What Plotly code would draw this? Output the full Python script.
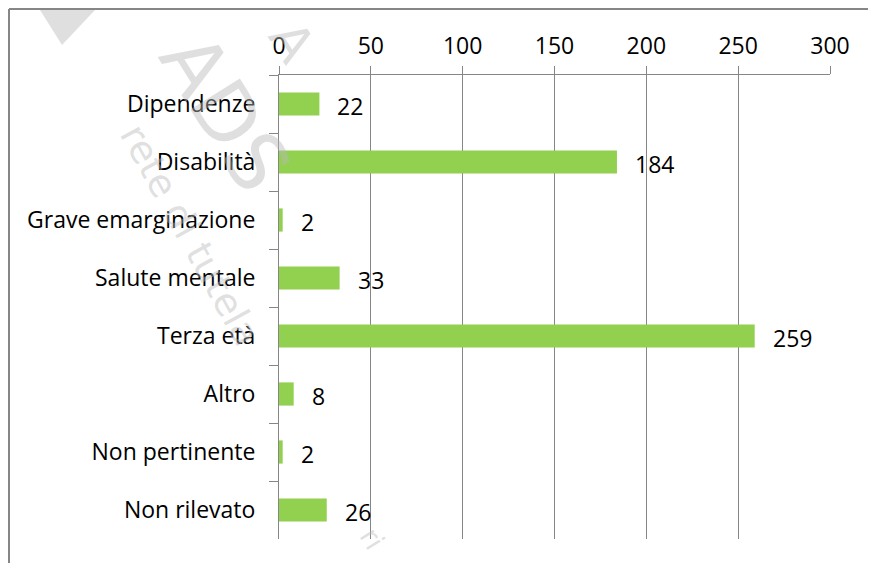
import plotly.graph_objects as go

categories = ["Dipendenze", "Disabilità", "Grave emarginazione", "Salute mentale",
              "Terza età", "Altro", "Non pertinente", "Non rilevato"]
values = [22, 184, 2, 33, 259, 8, 2, 26]
tick_vals = [0, 50, 100, 150, 200, 250, 300]

OFF = 8  # default page body margin
W, H = 876 - OFF, 563 - OFF
L, R, T, B = 279, 830, 75, 539  # plot area in page pixels
FONT = "Open Sans"
FS = 23
GRID = "#868686"
WM = "rgba(185,185,185,0.45)"


def px(x):
    return (x - L) / (R - L)


def py(y):
    return (B - y) / (B - T)


fig = go.Figure()
fig.add_trace(go.Bar(
    x=values, y=categories, orientation="h",
    marker=dict(color="#92D050", line=dict(width=0)),
    hoverinfo="x+y",
))

for c, v in zip(categories, values):
    fig.add_annotation(x=v, y=c, xref="x", yref="y", text=str(v),
                       showarrow=False, xanchor="left", yanchor="middle",
                       xshift=16, yshift=-2,
                       font=dict(family=FONT, size=FS, color="#000000"))

# watermark (faint, background)
wm = [
    ("rete di tutela", 190, 235, 61, 38),
    ("ADS", 225, 112, 58, 80),
    ("A", 292, 42, 58, 52),
    ("ri", 372, 538, 58, 28),
]
for txt, xx, yy, ang, size in wm:
    fig.add_annotation(x=px(xx), y=py(yy), xref="paper", yref="paper", text=txt,
                       showarrow=False, textangle=ang, xanchor="center", yanchor="middle",
                       font=dict(family="DejaVu Sans", size=size, color=WM))

shapes = [
    # chart area border (top and left)
    dict(type="line", xref="paper", yref="paper", x0=px(9), x1=px(880), y0=py(9), y1=py(9),
         line=dict(color="#868686", width=2)),
    dict(type="line", xref="paper", yref="paper", x0=px(9), x1=px(9), y0=py(9), y1=py(570),
         line=dict(color="#868686", width=2)),
    # watermark triangle
    dict(type="path", xref="paper", yref="paper",
         path=f"M {px(40)} {py(10)} L {px(95)} {py(10)} L {px(62)} {py(45)} Z",
         fillcolor=WM, line=dict(width=0), layer="below"),
]
fig.update_layout(shapes=shapes)

fig.update_layout(
    width=W, height=H,
    margin=dict(l=L - OFF, r=876 - R, t=T - OFF, b=563 - B, autoexpand=False),
    paper_bgcolor="white", plot_bgcolor="white",
    bargap=0.6,
    showlegend=False,
    font=dict(family=FONT, size=FS, color="#000000"),
    xaxis=dict(
        side="top", range=[0, 300], tickvals=tick_vals,
        ticktext=[str(t) for t in tick_vals],
        showgrid=True, gridcolor=GRID, gridwidth=1,
        showline=True, linecolor=GRID, linewidth=1,
        ticks="outside", ticklen=8, tickcolor=GRID, tickwidth=1,
        zeroline=False, ticklabelstandoff=3,
        tickfont=dict(family=FONT, size=FS, color="#000000"),
    ),
    yaxis=dict(
        categoryorder="array", categoryarray=categories, autorange="reversed",
        showgrid=False, showline=True, linecolor=GRID, linewidth=1,
        ticks="outside", ticklen=9, tickcolor=GRID, tickwidth=1,
        tickson="boundaries", zeroline=False, ticklabelstandoff=18,
        tickfont=dict(family=FONT, size=FS, color="#000000"),
    ),
)

fig.write_html("out.html")
